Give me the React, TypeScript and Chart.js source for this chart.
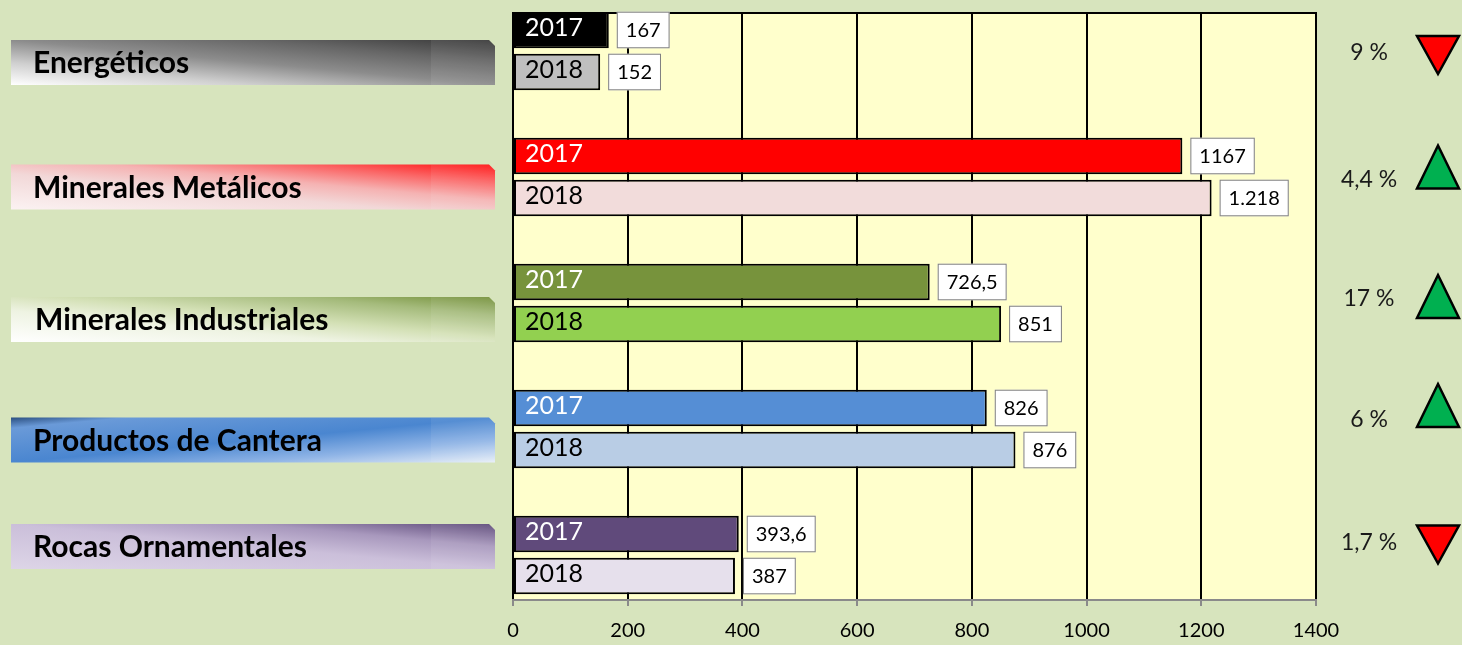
import React, { useEffect, useRef } from 'react';
import { Chart, registerables } from 'chart.js';

Chart.register(...registerables);

// ---------- data ----------
const categories = ['Energéticos', 'Minerales Metálicos', 'Minerales Industriales', 'Productos de Cantera', 'Rocas Ornamentales'];
const seriesNames = ['2017', '2018'];
const values2017 = [167, 1167, 726.5, 826, 393.6];
const values2018 = [152, 1218, 851, 876, 387];
const valueLabels2017 = ['167', '1167', '726,5', '826', '393,6'];
const valueLabels2018 = ['152', '1.218', '851', '876', '387'];
const changeLabels = ['9 %', '4,4 %', '17 %', '6 %', '1,7 %'];
const changeUp = [false, true, true, true, false];
const xMin = 0;
const xMax = 1400;
const xStep = 200;

// ---------- styles ----------
const BG = '#d7e4bd';
const PLOT_BG = '#ffffcc';
const colors2017 = ['#000000', '#ff0000', '#77933c', '#558ed5', '#604a7b'];
const colors2018 = ['#bfbfbf', '#f2dcdb', '#92d050', '#b9cde5', '#e6e0ec'];
const ribbonStyles = [
  { dir: 'up', stops: [[0, '#ffffff'], [0.25, '#cfcfcf'], [0.5, '#8c8c8c'], [0.75, '#666666'], [1, '#383838']] },
  { dir: 'up', stops: [[0, '#fbf2f2'], [0.4, '#f2d8d8'], [0.6, '#f5b2b2'], [0.8, '#fb6464'], [1, '#ff1010']] },
  { dir: 'up', stops: [[0, '#ffffff'], [0.35, '#eef3e2'], [0.55, '#d3e0b5'], [0.8, '#a5bb7c'], [1, '#74903a']] },
  { dir: 'down', stops: [[0, '#2b4f80'], [0.12, '#6a9ad8'], [0.5, '#4a86d0'], [0.75, '#8fb4e6'], [1, '#e8eff8']] },
  { dir: 'up', stops: [[0, '#ddd5e7'], [0.5, '#cbbfda'], [0.75, '#a898bd'], [1, '#5d4979']] },
];
// layout nudges (px) relative to each category's centre on the y scale
const ribbonNudge = [11.5, 10, 16.5, 11, -8.5];
const percentNudge = [2, 3, -4, -9, -12];
const triangleNudge = [4, -10, -6.5, -23.5, -10.5];

const FONT = 'Lato, "Open Sans", sans-serif';

const decorPlugin = {
  id: 'decor',
  beforeDraw(chart: any) {
    const { ctx, chartArea } = chart;
    ctx.save();
    ctx.fillStyle = PLOT_BG;
    ctx.fillRect(chartArea.left, chartArea.top, chartArea.right - chartArea.left, chartArea.bottom - chartArea.top);
    ctx.restore();
  },
  afterDatasetsDraw(chart: any) {
    const { ctx, chartArea } = chart;

    // plot frame top line
    ctx.save();
    ctx.strokeStyle = '#000';
    ctx.lineWidth = 2;
    ctx.beginPath();
    ctx.moveTo(chartArea.left, chartArea.top + 1);
    ctx.lineTo(chartArea.right, chartArea.top + 1);
    ctx.stroke();
    ctx.restore();

    // bar labels and value boxes
    const valueLabelSets = [valueLabels2017, valueLabels2018];
    chart.data.datasets.forEach((ds: any, di: number) => {
      const meta = chart.getDatasetMeta(di);
      meta.data.forEach((el: any, i: number) => {
        const p = el.getProps(['x', 'y', 'base', 'height'], true);
        const top = p.y - p.height / 2;
        // inside label
        ctx.save();
        ctx.font = `25px ${FONT}`;
        ctx.textBaseline = 'middle';
        ctx.textAlign = 'left';
        ctx.fillStyle = di === 0 ? '#ffffff' : '#000000';
        ctx.fillText(seriesNames[di], p.base + 11, p.y - 2);
        ctx.restore();
        // value box
        const txt = valueLabelSets[di][i];
        ctx.save();
        ctx.font = `20px ${FONT}`;
        const tw = ctx.measureText(txt).width;
        const bx = p.x + 8;
        const bw = tw + 18;
        ctx.fillStyle = '#ffffff';
        ctx.fillRect(bx, top, bw, p.height);
        ctx.strokeStyle = '#7f7f7f';
        ctx.lineWidth = 1;
        ctx.strokeRect(bx + 0.5, top + 0.5, bw - 1, p.height - 1);
        ctx.fillStyle = '#000';
        ctx.textAlign = 'center';
        ctx.textBaseline = 'middle';
        ctx.fillText(txt, bx + bw / 2, p.y + 1);
        ctx.restore();
      });
    });
  },
  afterDraw(chart: any) {
    const { ctx } = chart;
    const yScale = chart.scales.y;
    categories.forEach((name, i) => {
      const cy = yScale.getPixelForValue(i);
      // ribbon
      const rc = cy + ribbonNudge[i];
      const x0 = 11, x1 = 495, h = 45;
      const y0 = rc - h / 2;
      const w = x1 - x0;
      const cut = 6;
      const st = ribbonStyles[i];
      ctx.save();
      ctx.translate(x0, y0);
      ctx.scale(w, h);
      ctx.beginPath();
      ctx.moveTo(0, 0);
      ctx.lineTo(1 - cut / w, 0);
      ctx.lineTo(1, cut / h);
      ctx.lineTo(1, 1);
      ctx.lineTo(0, 1);
      ctx.closePath();
      const g = st.dir === 'up' ? ctx.createLinearGradient(0, 1, 1, 0) : ctx.createLinearGradient(0, 0, 1, 1);
      st.stops.forEach((s: any) => g.addColorStop(s[0], s[1]));
      ctx.fillStyle = g;
      ctx.fill();
      ctx.clip();
      ctx.fillStyle = 'rgba(255,255,255,0.07)';
      ctx.fillRect((431 - x0) / w, 0, 1, 1);
      ctx.restore();

      ctx.save();
      ctx.font = `bold 30px ${FONT}`;
      ctx.fillStyle = '#000';
      ctx.textBaseline = 'middle';
      ctx.textAlign = 'left';
      ctx.fillText(name, i === 2 ? 35 : 33, rc + 1);
      ctx.restore();

      // percent text
      ctx.save();
      ctx.font = `23px ${FONT}`;
      ctx.fillStyle = '#1a1a1a';
      ctx.textAlign = 'center';
      ctx.textBaseline = 'middle';
      ctx.fillText(changeLabels[i], 1369, cy + percentNudge[i]);
      ctx.restore();

      // triangle
      const tc = cy + triangleNudge[i];
      const tx = 1438;
      const tw = 42;
      const th = changeUp[i] ? 43 : 38;
      ctx.save();
      ctx.beginPath();
      if (changeUp[i]) {
        ctx.moveTo(tx, tc - th / 2);
        ctx.lineTo(tx + tw / 2, tc + th / 2);
        ctx.lineTo(tx - tw / 2, tc + th / 2);
      } else {
        ctx.moveTo(tx - tw / 2, tc - th / 2);
        ctx.lineTo(tx + tw / 2, tc - th / 2);
        ctx.lineTo(tx, tc + th / 2);
      }
      ctx.closePath();
      ctx.fillStyle = changeUp[i] ? '#00b050' : '#ff0000';
      ctx.fill();
      ctx.lineWidth = 2.5;
      ctx.strokeStyle = '#000';
      ctx.lineJoin = 'miter';
      ctx.stroke();
      ctx.restore();
    });
  },
};

export default function App() {
  const ref = useRef<HTMLCanvasElement | null>(null);

  useEffect(() => {
    if (!ref.current) return;
    Chart.defaults.font.family = FONT;
    const chart = new Chart(ref.current, {
      type: 'bar',
      data: {
        datasets: [
          {
            label: seriesNames[0],
            data: values2017.map((v, i) => ({ x: v, y: i })),
            backgroundColor: colors2017,
            borderColor: '#000000',
            borderWidth: 2,
            borderSkipped: false,
            categoryPercentage: 0.667,
            barPercentage: 0.87,
          },
          {
            label: seriesNames[1],
            data: values2018.map((v, i) => ({ x: v, y: i })),
            backgroundColor: colors2018,
            borderColor: '#000000',
            borderWidth: 2,
            borderSkipped: false,
            categoryPercentage: 0.667,
            barPercentage: 0.87,
          },
        ],
      } as any,
      options: {
        indexAxis: 'y',
        responsive: false,
        animation: false,
        layout: { padding: { left: 513, right: 146, top: 12, bottom: 0 } },
        scales: {
          x: {
            type: 'linear',
            position: 'bottom',
            min: xMin,
            max: xMax,
            offset: false,
            ticks: { stepSize: xStep, color: '#000', font: { size: 20, family: FONT }, padding: 13, callback: (v: any) => String(v) },
            grid: { color: '#000', lineWidth: 2, tickLength: 6, tickColor: '#8a8a8a', tickWidth: 2, offset: false },
            border: { color: '#8a8a8a', width: 2 },
            afterFit: (s: any) => { s.height = 45; },
          },
          y: {
            type: 'linear',
            reverse: true,
            min: -0.3095,
            max: 4.357,
            offset: false,
            grid: { offset: false, display: false },
            display: false,
            afterBuildTicks: (s: any) => { s.ticks = categories.map((_, i) => ({ value: i })); },
          },
        },
        plugins: { legend: { display: false }, tooltip: { enabled: false } },
      } as any,
      plugins: [decorPlugin],
    });
    return () => chart.destroy();
  }, []);

  return (
    <div style={{ position: 'absolute', left: 0, top: 0, width: 1462, height: 645, background: BG }}>
      <canvas ref={ref} width={1462} height={645} style={{ display: 'block', width: 1462, height: 645 }} />
    </div>
  );
}
